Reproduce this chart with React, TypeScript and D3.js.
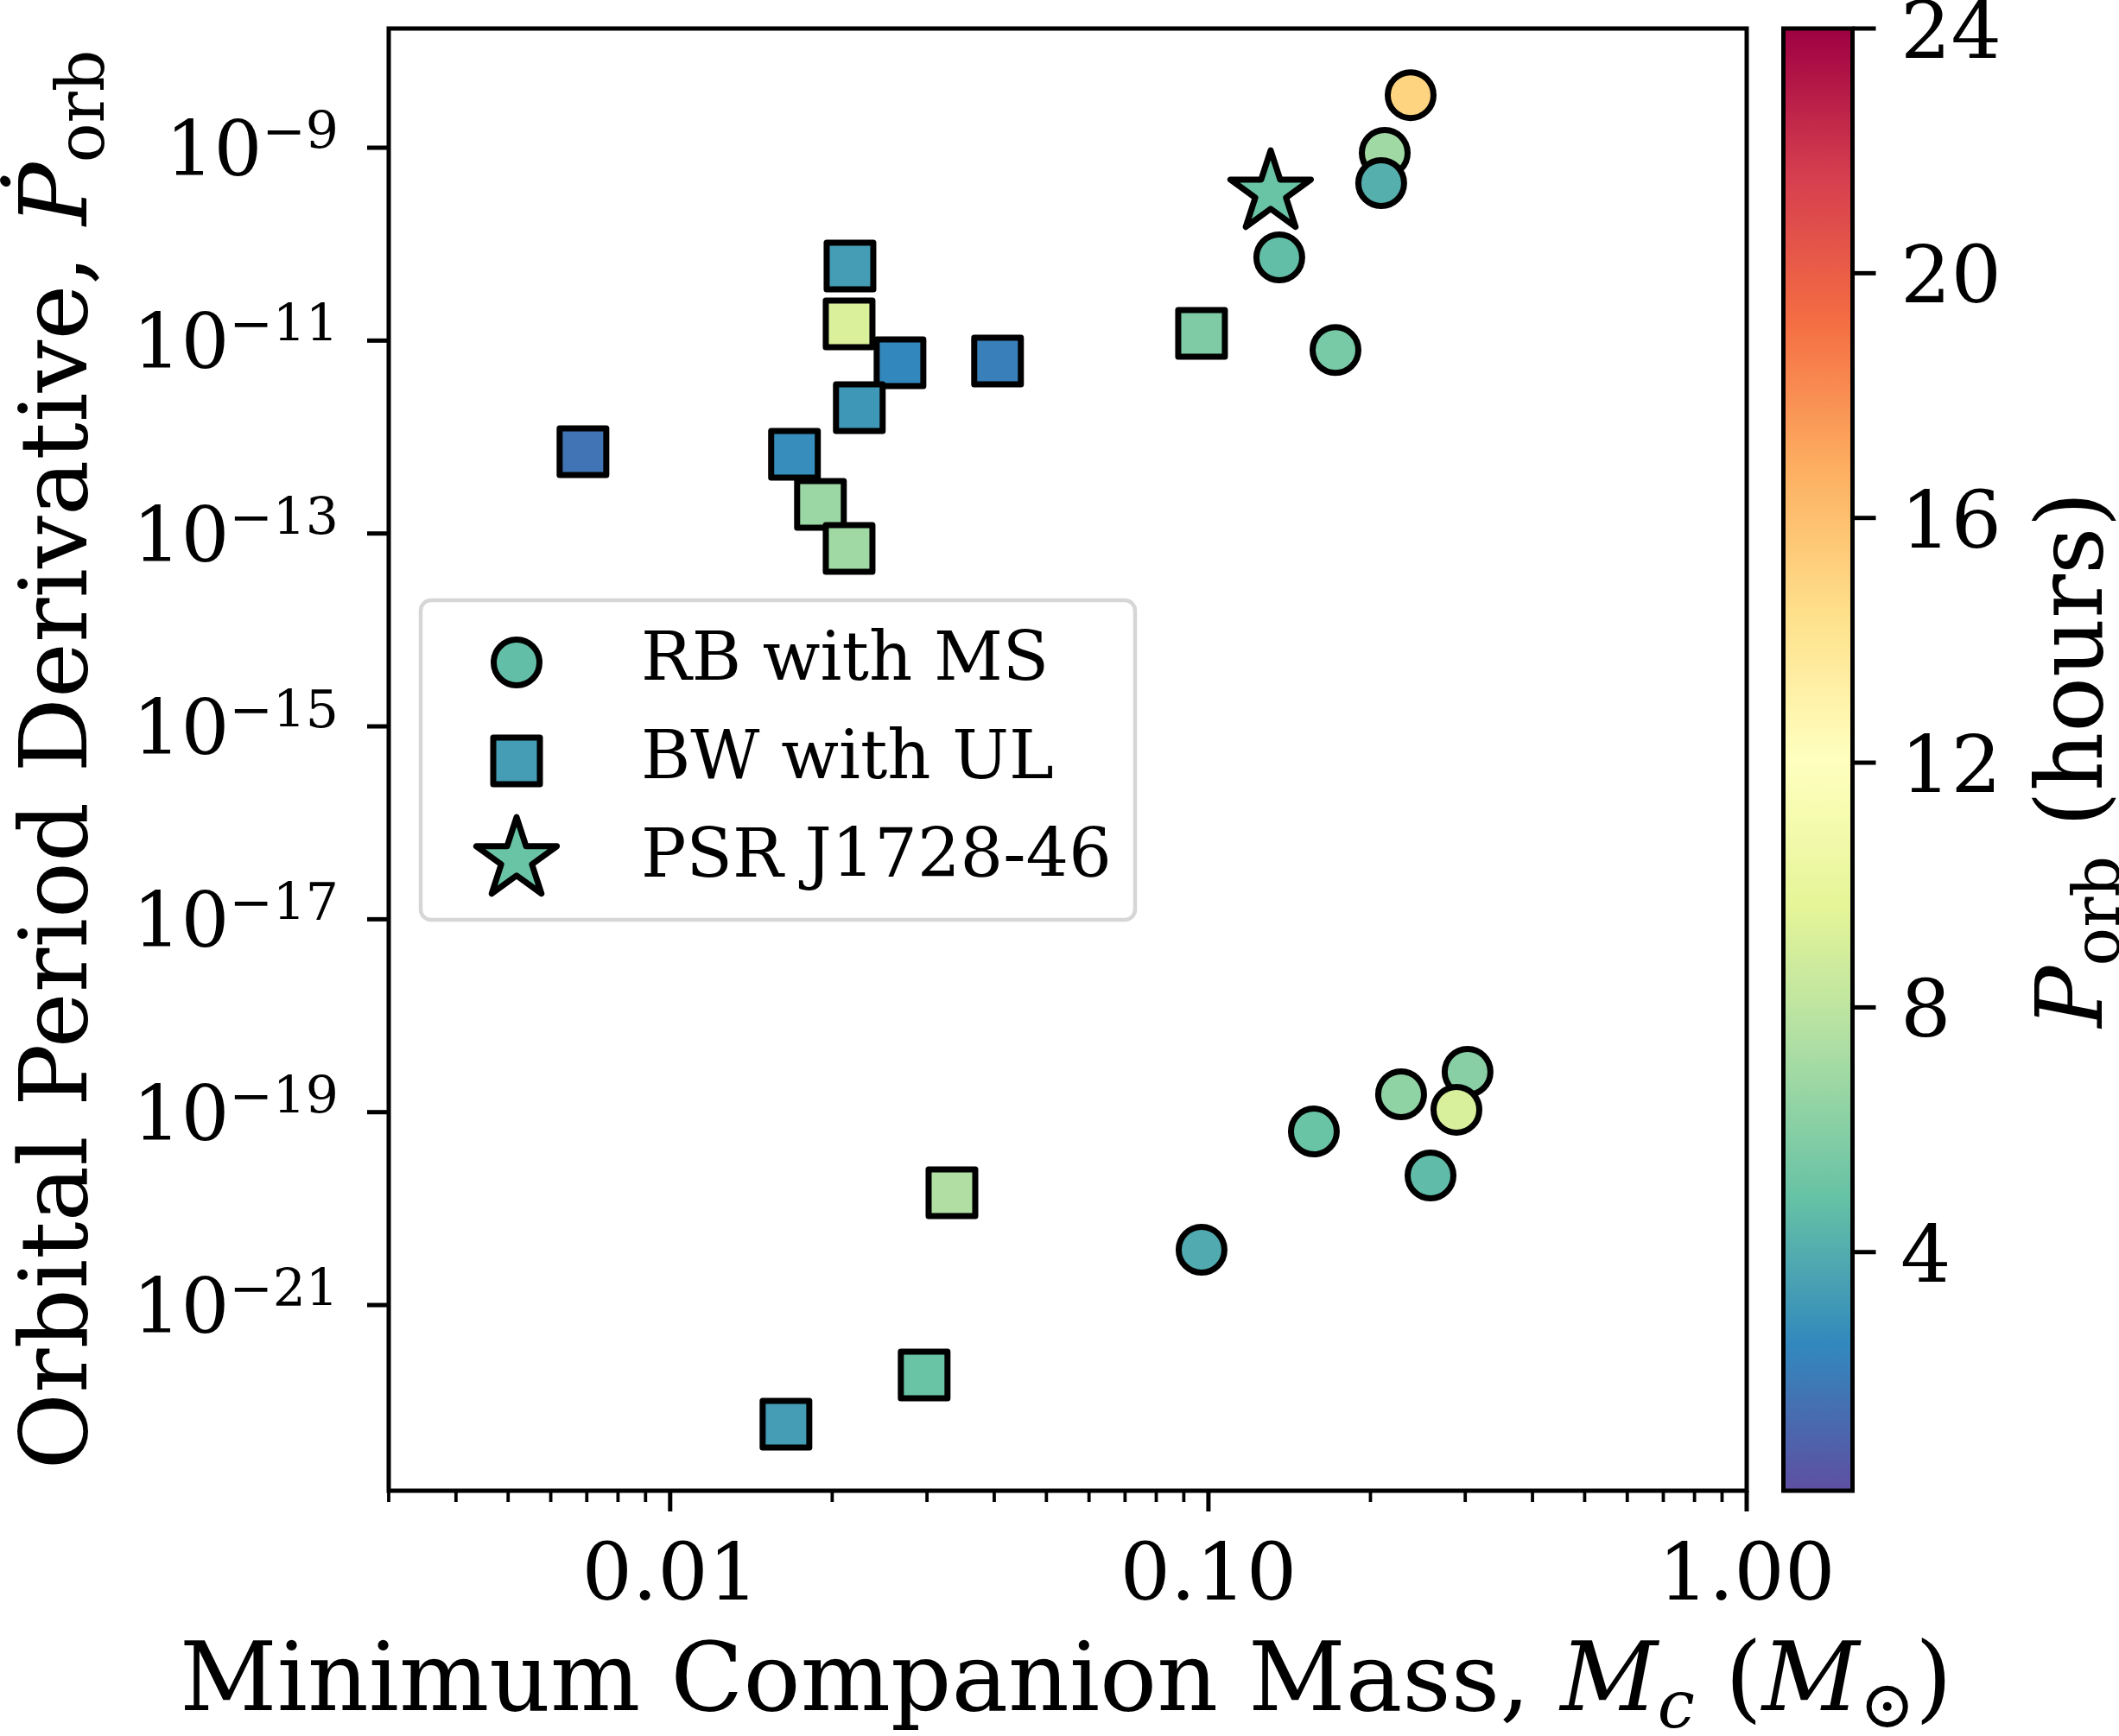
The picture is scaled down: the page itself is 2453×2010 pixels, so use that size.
import React from 'react';
import * as d3 from 'd3';

// ---- data ----
// RB with MS (circles)
const rbMass = [0.2375, 0.2126, 0.2094, 0.1354, 0.1722, 0.303, 0.228, 0.2889, 0.157, 0.2586, 0.0971];
const rbPdot = [3.51e-9, 8.84e-10, 4.3e-10, 7.3e-11, 8.0e-12, 2.62e-19, 1.53e-19, 1.06e-19, 6.3e-20, 2.21e-20, 3.74e-21];
const rbPorb = [15.0, 6.9, 4.1, 4.7, 5.5, 6.05, 6.3, 9.1, 5.0, 4.6, 3.9];

// BW with UL (squares)
const bwMass = [0.02158, 0.0215, 0.02673, 0.04057, 0.0971, 0.02246, 0.006886, 0.01702, 0.01902, 0.0215, 0.03338, 0.02964, 0.01641];
const bwPdot = [5.93e-11, 1.49e-11, 5.89e-12, 6.14e-12, 1.19e-11, 2.02e-12, 7.05e-13, 6.62e-13, 2.0e-13, 7.0e-14, 1.46e-20, 1.88e-22, 5.8e-23];
const bwPorb = [3.3, 9.2, 2.5, 2.1, 5.7, 3.1, 1.65, 2.7, 6.7, 6.9, 7.5, 5.0, 3.3];

// PSR J1728-46 (star)
const psrMass = [0.1305];
const psrPdot = [3.42e-10];
const psrPorb = [5.0];

const legendLabels = ['RB with MS', 'BW with UL', 'PSR J1728-46'];
const legendPorb = [4.7, 3.3, 5.0];

const xTickVals = [0.01, 0.1, 1];
const xTickLabels = ['0.01', '0.10', '1.00'];
const yTickExps = [-21, -19, -17, -15, -13, -11, -9];
const cbarTicks = [4, 8, 12, 16, 20, 24];

const xDomain = [0.003, 1];
const yDomain = [Math.pow(10, -22.925), Math.pow(10, -7.764)];
const cbarDomain = [0.1, 24];

// ---- layout ----
const W = 2453;
const H = 2010;
const plot = { left: 450, right: 2022, top: 33, bottom: 1726 };
const cbar = { left: 2064.5, right: 2144.5 };
const FONT = '"DejaVu Serif", serif';
const LW = 5;

const starPath = (R: number) => {
  const r = R * 0.381966;
  const pts = d3.range(10).map(i => {
    const a = -Math.PI / 2 + i * Math.PI / 5;
    const rr = i % 2 === 0 ? R : r;
    return [rr * Math.cos(a), rr * Math.sin(a)];
  });
  return 'M' + pts.map(p => p[0].toFixed(2) + ',' + p[1].toFixed(2)).join('L') + 'Z';
};

const Marker = ({ kind, cx, cy, fill }: { kind: string; cx: number; cy: number; fill: string }) => {
  const common = { fill, stroke: '#000', strokeWidth: 7, strokeLinejoin: 'round' as const };
  if (kind === 'circle') return <circle cx={cx} cy={cy} r={26.5} {...common} />;
  if (kind === 'square') return <rect x={cx - 27} y={cy - 27} width={54} height={54} {...common} />;
  return <path d={starPath(49)} transform={`translate(${cx},${cy})`} {...common} />;
};

const App = () => {
  const x = d3.scaleLog().domain(xDomain).range([plot.left, plot.right]);
  const y = d3.scaleLog().domain(yDomain).range([plot.bottom, plot.top]);
  const spectral = [...d3.schemeSpectral[11]].reverse();
  const color = d3.scaleLinear<string>()
    .domain(d3.range(11).map(i => cbarDomain[0] + (i * (cbarDomain[1] - cbarDomain[0])) / 10))
    .range(spectral)
    .interpolate(d3.interpolateRgb);
  const cy = d3.scaleLinear().domain(cbarDomain).range([plot.bottom, plot.top]);

  const minorX = x.ticks().filter(t => !xTickVals.some(m => Math.abs(m - t) / t < 1e-6));
  const gradStops = d3.range(0, 1.0001, 0.02);

  const legendRows = [
    { kind: 'circle', label: legendLabels[0], fill: color(legendPorb[0]) },
    { kind: 'square', label: legendLabels[1], fill: color(legendPorb[1]) },
    { kind: 'star', label: legendLabels[2], fill: color(legendPorb[2]) },
  ];

  const midY = (plot.top + plot.bottom) / 2;
  const midX = (plot.left + plot.right) / 2;

  return (
    <svg width={W} height={H} style={{ position: 'absolute', left: 0, top: 0, background: '#fff' }}
      fontFamily={FONT}>
      <defs>
        <linearGradient id="cmap" x1="0" y1="1" x2="0" y2="0">
          {gradStops.map(t => (
            <stop key={t} offset={t} stopColor={color(cbarDomain[0] + t * (cbarDomain[1] - cbarDomain[0]))} />
          ))}
        </linearGradient>
      </defs>
      <rect width={W} height={H} fill="#fff" />

      {/* scatter */}
      {bwMass.map((m, i) => (
        <Marker key={'bw' + i} kind="square" cx={x(m)} cy={y(bwPdot[i])} fill={color(bwPorb[i])} />
      ))}
      {rbMass.map((m, i) => (
        <Marker key={'rb' + i} kind="circle" cx={x(m)} cy={y(rbPdot[i])} fill={color(rbPorb[i])} />
      ))}
      {psrMass.map((m, i) => (
        <Marker key={'psr' + i} kind="star" cx={x(m)} cy={y(psrPdot[i])} fill={color(psrPorb[i])} />
      ))}

      {/* legend */}
      <rect x={487} y={695} width={827} height={370} rx={12} fill="#fff" stroke="#d6d6d6" strokeWidth={4.5} />
      {legendRows.map((r, i) => (
        <g key={r.label}>
          <Marker kind={r.kind} cx={598} cy={767 + i * 114} fill={r.fill} />
          <text x={742} y={787 + i * 114} fontSize={78}>{r.label}</text>
        </g>
      ))}

      {/* axes frame */}
      <rect x={plot.left} y={plot.top} width={plot.right - plot.left} height={plot.bottom - plot.top}
        fill="none" stroke="#000" strokeWidth={LW} />

      {/* x ticks */}
      {minorX.map(t => (
        <line key={'mx' + t} x1={x(t)} x2={x(t)} y1={plot.bottom} y2={plot.bottom + 13} stroke="#000" strokeWidth={3.8} />
      ))}
      {xTickVals.map((t, i) => (
        <g key={'x' + t}>
          <line x1={x(t)} x2={x(t)} y1={plot.bottom} y2={plot.bottom + 24} stroke="#000" strokeWidth={LW} />
          <text x={x(t)} y={1852} fontSize={92} textAnchor="middle">{xTickLabels[i]}</text>
        </g>
      ))}

      {/* y ticks */}
      {yTickExps.map(e => {
        const yy = y(Math.pow(10, e));
        return (
          <g key={'y' + e}>
            <line x1={plot.left - 25} x2={plot.left} y1={yy} y2={yy} stroke="#000" strokeWidth={LW} />
            <text x={392} y={yy + 32} fontSize={88} textAnchor="end">
              10<tspan dy={-31} fontSize={60}>{'\u2212' + Math.abs(e)}</tspan>
            </text>
          </g>
        );
      })}

      {/* axis labels */}
      <text x={midX - 2} y={1980} fontSize={110} textAnchor="middle">
        Minimum Companion Mass,{' '}
        <tspan fontStyle="italic">M</tspan>
        <tspan fontStyle="italic" fontSize={77} dy={20}>c</tspan>
        <tspan dy={-20}>{' ('}</tspan>
        <tspan fontStyle="italic">M</tspan>
        <tspan fontSize={77} dy={20}>{'\u2299'}</tspan>
        <tspan dy={-20}>)</tspan>
      </text>
      <text transform={`translate(100,${midY}) rotate(-90)`} fontSize={108} textAnchor="middle">
        Orbital Period Derivative,{' '}
        <tspan fontStyle="italic">{'\u1E56'}</tspan>
        <tspan fontSize={76} dy={20}>orb</tspan>
      </text>

      {/* colorbar */}
      <rect x={cbar.left} y={plot.top} width={cbar.right - cbar.left} height={plot.bottom - plot.top} fill="url(#cmap)" />
      <rect x={cbar.left} y={plot.top} width={cbar.right - cbar.left} height={plot.bottom - plot.top}
        fill="none" stroke="#000" strokeWidth={LW} />
      {cbarTicks.map(t => (
        <g key={'c' + t}>
          <line x1={cbar.right} x2={cbar.right + 27} y1={cy(t)} y2={cy(t)} stroke="#000" strokeWidth={LW} />
          <text x={2200} y={cy(t) + 34} fontSize={92}>{t}</text>
        </g>
      ))}
      <text transform={`translate(2433,${midY}) rotate(-90)`} fontSize={106} textAnchor="middle">
        <tspan fontStyle="italic">P</tspan>
        <tspan fontSize={74} dy={20}>orb</tspan>
        <tspan dy={-20}>{'  (hours)'}</tspan>
      </text>
    </svg>
  );
};

export default App;
